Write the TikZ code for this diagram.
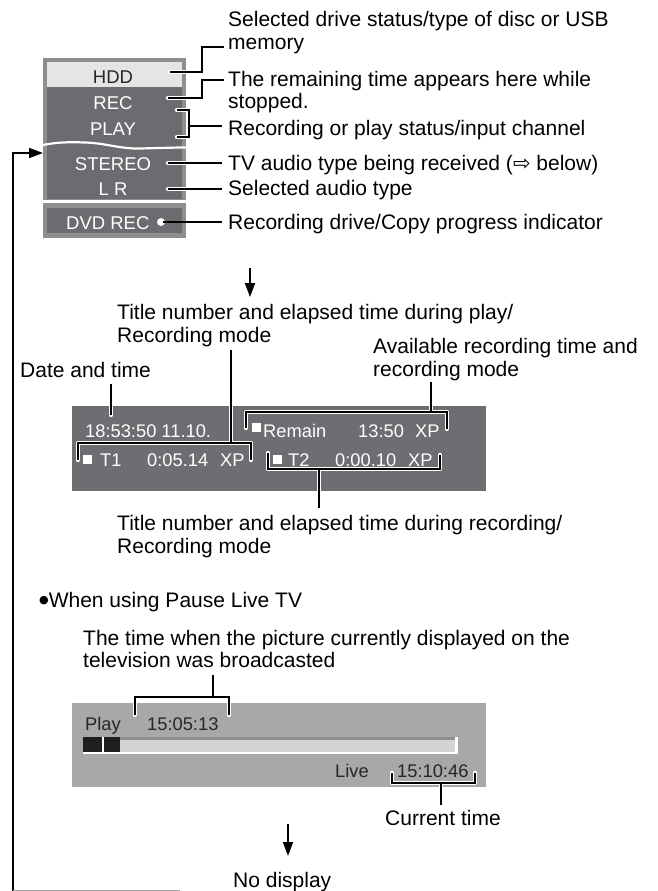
\documentclass[tikz,border=0pt]{standalone}
\usepackage{fontspec}
\setmainfont{Liberation Sans}
\newfontfamily\symfont{DejaVu Sans}
\usetikzlibrary{arrows.meta}
\definecolor{frameg}{HTML}{8D8E90}
\definecolor{paneld}{HTML}{6B6C6F}
\definecolor{hddl}{HTML}{E5E5E6}
\definecolor{dispd}{HTML}{6D6E71}
\definecolor{displ}{HTML}{A7A8AA}
\definecolor{bargray}{HTML}{D3D4D6}
\definecolor{bartop}{HTML}{8E8F91}
\definecolor{dtext}{HTML}{262626}
\newcommand\callout[1]{\draw[halo] #1; \draw[blk] #1;}
\begin{document}
\begin{tikzpicture}[x=1pt,y=-1pt,
  lbl/.style={anchor=base west, inner sep=0pt, font=\fontsize{21}{24}\selectfont},
  pnl/.style={anchor=base, inner sep=0pt, font=\fontsize{18.5}{20}\selectfont, text=white},
  disp/.style={anchor=base west, inner sep=0pt, font=\fontsize{18.3}{20}\selectfont, text=white},
  dispk/.style={disp, text=dtext},
  halo/.style={white, line width=4.5pt, line cap=round, line join=round},
  blk/.style={black, line width=2pt, line cap=butt, line join=miter},
  tip/.style={-{Triangle[length=14pt,width=10pt]}, line width=1.9pt}
]
\useasboundingbox (0,0) rectangle (657,891);

% ---------- status panel ----------
\fill[frameg] (43,58) rectangle (186,238);
\fill[paneld] (47,62) rectangle (182,199);
\fill[hddl] (47,62) rectangle (182,87);
\fill[white] (43,200) rectangle (186,203);
\fill[paneld] (47,208) rectangle (182,233);
\draw[white, line width=2.2pt] (43,145) .. controls (58,142) and (70,142) .. (85,142.5)
  .. controls (105,143) and (120,149) .. (140,148.5)
  .. controls (160,148) and (175,147.5) .. (186,147.5);

\node[pnl, text=dtext] (hdd) at (113,83) {HDD};
\node[pnl] (rec) at (113,109) {REC};
\node[pnl] (play) at (113,135) {PLAY};
\node[pnl] (stereo) at (113,170) {STEREO};
\node[pnl] (lr) at (113,195) {L R};
\node[pnl, anchor=base west] (dvd) at (66,229) {DVD REC};
\fill[white] (161,222) circle (4pt);

% panel callouts
\callout{(170,72) -- (202,72) -- (202,47) -- (224,47)}
\callout{(168,98) -- (202,98) -- (202,80) -- (224,80)}
\callout{(177,110) -- (189,110) -- (189,137) -- (177,137) (189,126) -- (222,126)}
\callout{(168,163) -- (222,163)}
\callout{(168,189) -- (222,189)}
\draw[blk] (163,222) -- (222,222);

\node[lbl] (l1a) at (228,27) {Selected drive status/type of disc or USB};
\node[lbl] (l1b) at (228,50) {memory};
\node[lbl] (l2a) at (228,86) {The remaining time appears here while};
\node[lbl] (l2b) at (228,108) {stopped.};
\node[lbl] (l3) at (228,135) {Recording or play status/input channel};
\node[lbl] (l4) at (228,170) {TV audio type being received ({\symfont ⇨} below)};
\node[lbl] (l5) at (228,195) {Selected audio type};
\node[lbl] (l6) at (228,229) {Recording drive/Copy progress indicator};

% loop arrow
\coordinate (loopb) at (13,891);
\coordinate (loopt) at (13,153);
\coordinate (loopin) at (43,153);
\draw[tip] (loopb) -- (loopt) -- (loopin);
\draw[black!35, line width=0.8pt] (13,890) -- (180,890);

% arrow 1
\coordinate (a1s) at (250,268);
\coordinate (a1e) at (250,297);
\draw[tip] (a1s) -- (a1e);

% ---------- main display ----------
\node[lbl] (m1a) at (117,319) {Title number and elapsed time during play/};
\node[lbl] (m1b) at (117,342) {Recording mode};
\node[lbl] (m2a) at (373,353) {Available recording time and};
\node[lbl] (m2b) at (373,376) {recording mode};
\node[lbl] (m3) at (20,377) {Date and time};

\fill[dispd] (72,406) rectangle (486,491);

\node[disp] (dt) at (85,437) {18:53:50 11.10.};
\fill[white] (252,423) rectangle (261,432);
\node[disp] (rem) at (263,437) {Remain};
\node[disp] (remt) at (358,437) {13:50};
\node[disp] (remx) at (415,437) {XP};
\fill[white] (83,455) rectangle (92,464);
\node[disp] (t1) at (100,466) {T1};
\node[disp] (t1t) at (147,466) {0:05.14};
\node[disp] (t1x) at (220,466) {XP};
\fill[white] (273,455) rectangle (282,464);
\node[disp] (t2) at (288,466) {T2};
\node[disp] (t2t) at (335,466) {0:00.10};
\node[disp] (t2x) at (408,466) {XP};

\callout{(111,384) -- (111,415)}
\callout{(231,350) -- (231,443) (78,460) -- (78,443) -- (251,443) -- (251,460)}
\callout{(431,382) -- (431,412) (246,428) -- (246,412) -- (447,412) -- (447,429)}
\callout{(319,508) -- (319,469) (268,453) -- (268,469) -- (440,469) -- (440,455)}

\node[lbl] (m4a) at (117,530) {Title number and elapsed time during recording/};
\node[lbl] (m4b) at (117,553) {Recording mode};

% ---------- pause live TV ----------
\node[lbl] (pl) at (39,607) {\raisebox{4pt}{\symfont\fontsize{11}{11}\selectfont ●}When using Pause Live TV};
\node[lbl] (p1a) at (83,645) {The time when the picture currently displayed on the};
\node[lbl] (p1b) at (83,667) {television was broadcasted};

\fill[displ] (72,703) rectangle (486,787);
\node[dispk] (play2) at (85,730) {Play};
\node[dispk] (pt) at (147,730) {15:05:13};
\fill[bargray] (83,737) rectangle (458,752);
\fill[bartop] (120,737) rectangle (455,739.5);
\fill[white] (455,737) rectangle (458,754);
\fill[white] (83,752) rectangle (458,754);
\fill[black!88] (83,737) rectangle (102,752);
\fill[black!88] (104,737) rectangle (120,752);
\fill[white] (102,737) rectangle (104,752);
\node[dispk] (live) at (335,777) {Live};
\node[dispk] (lt) at (397,777) {15:10:46};

\callout{(213,675) -- (213,697) (135,715) -- (135,697) -- (229,697) -- (229,715)}
\callout{(441,805) -- (441,783) (392,773) -- (392,783) -- (475,783) -- (475,773)}

\node[lbl] (ct) at (385,825) {Current time};
\coordinate (a2s) at (288,824);
\coordinate (a2e) at (288,856);
\draw[tip] (a2s) -- (a2e);
\node[lbl] (nd) at (233,887) {No display};
\end{tikzpicture}
\end{document}
